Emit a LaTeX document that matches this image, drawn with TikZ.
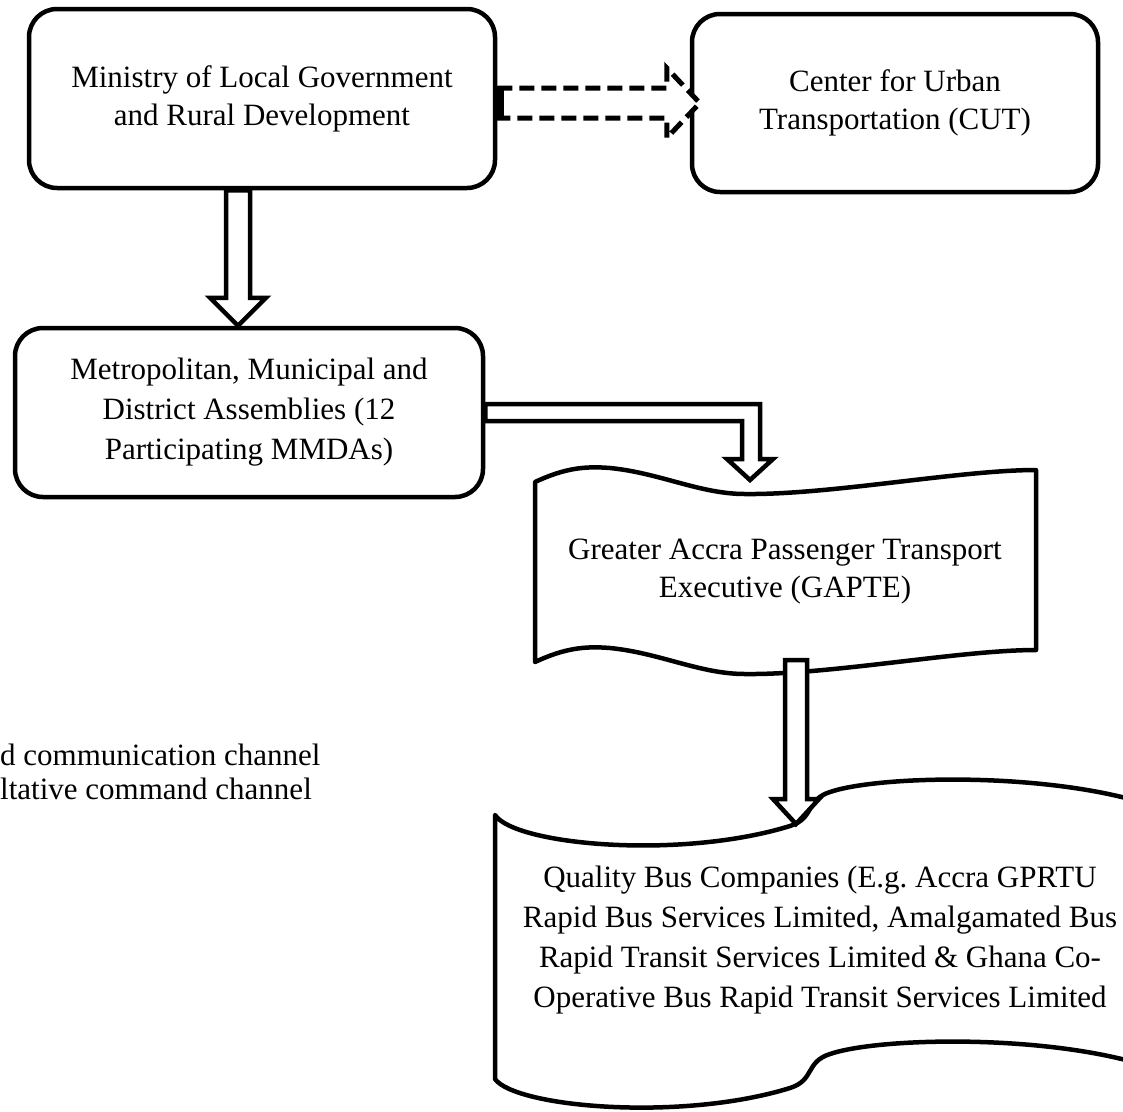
\documentclass[tikz,border=0pt]{standalone}
\usepackage{fontspec}
\setmainfont{Liberation Serif}
\usepackage{tikz}
\usetikzlibrary{positioning,calc}

\newcommand{\chartfont}{\fontsize{31}{38}\selectfont\frenchspacing}
\newcommand{\widefont}{\fontsize{31}{40}\selectfont\frenchspacing}

\begin{document}
\begin{tikzpicture}[x=1pt, y=-1pt,
    orgbox/.style={draw, line width=4.5pt, rounded corners=28pt, align=center, font=\chartfont},
    wavetext/.style={align=center, font=\chartfont},
    waveline/.style={draw, line width=4.5pt, line join=round},
    hollow/.style={draw, line width=4.5pt, fill=white, line join=miter},
    dashedhollow/.style={hollow, line width=5pt, dash pattern=on 15pt off 7pt},
    legendtext/.style={anchor=west, inner sep=0pt, font=\chartfont}]
\useasboundingbox (0,0) rectangle (1123,1111);
\clip (0,0) rectangle (1123,1111);

% boxes
\node[orgbox, minimum width=466, minimum height=179] (ministry) at (262,98.5) {Ministry of Local Government\\and Rural Development};
\node[orgbox, minimum width=406, minimum height=178] (cut) at (895,103) {Center for Urban\\Transportation (CUT)};
\node[orgbox, font=\widefont, minimum width=468, minimum height=169] (mmda) at (249,412.5) {Metropolitan, Municipal and\\District Assemblies (12\\Participating MMDAs)};

% wavy shapes
\draw[waveline] (535,482) .. controls (565,468) and (585,466) .. (610,468)
    .. controls (660,473) and (700,494) .. (745,494)
    .. controls (830,495) and (960,470) .. (1036,470)
    -- (1036,650)
    .. controls (960,650) and (830,675) .. (745,674)
    .. controls (700,674) and (660,653) .. (610,648)
    .. controls (585,646) and (565,648) .. (535,662) -- cycle;
\node[wavetext] (gapte) at (785,572) {Greater Accra Passenger Transport\\Executive (GAPTE)};

\draw[waveline] (495,815) .. controls (515,845) and (680,860) .. (790,826)
    .. controls (815,818) and (805,800) .. (830,792)
    .. controls (880,775) and (1050,772) .. (1150,805)
    -- (1150,1067)
    .. controls (1050,1034) and (880,1037) .. (830,1054)
    .. controls (805,1062) and (815,1080) .. (790,1088)
    .. controls (680,1122) and (515,1107) .. (495,1079) -- cycle;
\node[wavetext, font=\widefont] (qbc) at (820,940) {Quality Bus Companies (E.g. Accra GPRTU\\Rapid Bus Services Limited, Amalgamated Bus\\Rapid Transit Services Limited \& Ghana Co-\\Operative Bus Rapid Transit Services Limited};

\coordinate (gapteN) at (750,480);
\coordinate (gapteS) at (796,660);
\coordinate (qbcN) at (796,824);

% legend
\node[legendtext] (legcomm) at (0,755) {d communication channel};
\node[legendtext] (legcmd) at (0,789) {ltative command channel};

% arrows
\coordinate (d1) at ($(ministry.east)+(0,4.5)$);
\coordinate (d1tip) at ($(cut.west |- d1)+(10,0)$);
\draw[dashedhollow] ($(d1)+(0,-15)$) -- ($(d1tip)+(-33,-15)$) -- ($(d1tip)+(-33,-35)$) -- (d1tip)
    -- ($(d1tip)+(-33,35)$) -- ($(d1tip)+(-33,15)$) -- ($(d1)+(0,15)$) -- cycle;
\draw[line width=8pt] ($(d1)+(3,-17)$) -- ($(d1)+(3,17)$);

\coordinate (a1) at ($(ministry.south)+(-24,0)$);
\coordinate (a1tip) at (a1 |- mmda.north);
\draw[hollow] ($(a1)+(-12,0)$) -- ($(a1tip)+(-12,-28)$) -- ($(a1tip)+(-28,-28)$) -- (a1tip)
    -- ($(a1tip)+(28,-28)$) -- ($(a1tip)+(12,-28)$) -- ($(a1)+(12,0)$) -- cycle;

\coordinate (l1) at (mmda.east);
\draw[hollow] ($(l1)+(0,-8.5)$) -- ($(gapteN |- l1)+(10,-8.5)$) -- ($(gapteN)+(10,-21)$) -- ($(gapteN)+(23,-21)$)
    -- (gapteN) -- ($(gapteN)+(-23,-21)$) -- ($(gapteN)+(-8,-21)$) -- ($(gapteN |- l1)+(-8,8.5)$)
    -- ($(l1)+(0,8.5)$) -- cycle;

\draw[hollow] ($(gapteS)+(-11,0)$) -- ($(qbcN)+(-11,-25)$) -- ($(qbcN)+(-23,-25)$) -- (qbcN)
    -- ($(qbcN)+(23,-25)$) -- ($(qbcN)+(11,-25)$) -- ($(gapteS)+(11,0)$) -- cycle;
\end{tikzpicture}
\end{document}
